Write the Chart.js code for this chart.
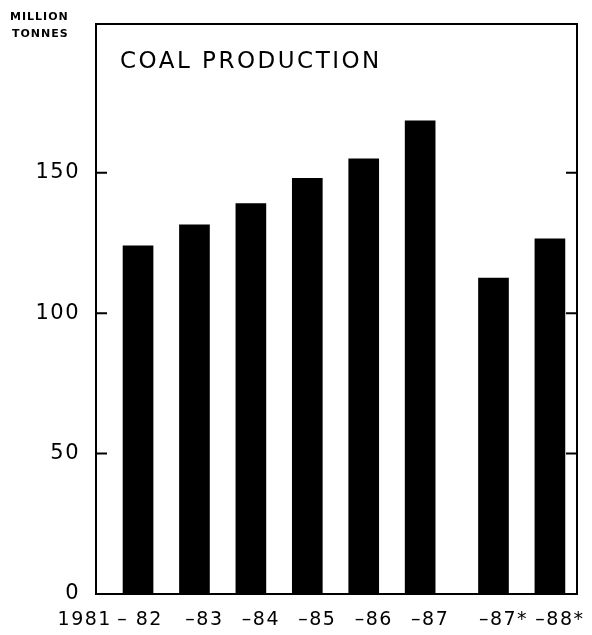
<!DOCTYPE html>
<html>
<head>
<meta charset="utf-8">
<script src="https://cdn.jsdelivr.net/npm/chart.js@4.4.0/dist/chart.umd.min.js"></script>
<style>
  html, body { margin: 0; background: #fff; }
</style>
</head>
<body>
<canvas id="coalChart" width="592" height="635"></canvas>
<script>
const years = ["1981\u2009\u2013 82", "\u201383", "\u201384", "\u201385", "\u201386", "\u201387", "\u201387*", "\u201388*"];
const production = [124, 131.5, 139, 148, 155, 168.5, 112.5, 126.5];
const yTicks = [0, 50, 100, 150];

// the last two bars stand a little apart from the yearly ones
const xs = years.map((_, i) => i + (i >= 6 ? 0.3 : 0));

const font = '"DejaVu Sans", sans-serif';

// frame, inward ticks, title and unit label
const frame = {
  id: "frame",
  beforeDraw(chart) {
    chart.ctx.letterSpacing = "1.5px";
  },
  afterDraw(chart) {
    const { ctx, chartArea: a, scales } = chart;
    ctx.save();
    ctx.strokeStyle = "#000";
    ctx.lineWidth = 2;
    ctx.strokeRect(a.left, a.top, a.right - a.left, a.bottom - a.top);
    yTicks.forEach(v => {
      if (v === 0) return;
      const py = scales.y.getPixelForValue(v);
      ctx.beginPath();
      ctx.moveTo(a.left, py); ctx.lineTo(a.left + 11, py);
      ctx.moveTo(a.right - 11, py); ctx.lineTo(a.right, py);
      ctx.stroke();
    });
    ctx.fillStyle = "#000";
    ctx.textAlign = "left";
    ctx.textBaseline = "alphabetic";
    ctx.letterSpacing = "2.5px";
    ctx.font = "23px " + font;
    ctx.fillText("COAL PRODUCTION", a.left + 24, a.top + 44);
    ctx.letterSpacing = "1px";
    ctx.font = "bold 11px " + font;
    ctx.fillText("MILLION", 10, 20);
    ctx.fillText("TONNES", 12, 37);
    ctx.restore();
  }
};

new Chart(document.getElementById("coalChart"), {
  type: "bar",
  data: {
    datasets: [{
      data: production.map((v, i) => ({ x: xs[i], y: v })),
      backgroundColor: "#000",
      borderWidth: 0,
      barThickness: 30
    }]
  },
  options: {
    responsive: false,
    animation: false,
    layout: { padding: { left: 0, right: 15, top: 24, bottom: 0 } },
    plugins: {
      legend: { display: false },
      tooltip: { enabled: false }
    },
    scales: {
      x: {
        type: "linear",
        offset: false,
        min: -0.745,
        max: 7.78,
        grid: { display: false, drawTicks: false },
        border: { display: false },
        afterBuildTicks: s => {
          s.ticks = xs.map((v, i) => ({ value: i === 0 ? v - 0.67 : v }));
        },
        afterFit: s => { s.height = 41; s.paddingLeft = 0; s.paddingRight = 0; },
        ticks: {
          color: "#000",
          font: { family: font, size: 19 },
          padding: 15,
          labelOffset: 10,
          maxRotation: 0,
          autoSkip: false,
          callback: (val, i) => years[i]
        }
      },
      y: {
        min: 0,
        max: 203,
        grid: { display: false, drawTicks: false },
        border: { display: false },
        afterBuildTicks: s => {
          s.ticks = yTicks.map(v => ({ value: v }));
        },
        afterFit: s => { s.width = 96; s.paddingTop = 0; s.paddingBottom = 0; },
        ticks: {
          color: "#000",
          font: { family: font, size: 21 },
          padding: 16
        }
      }
    }
  },
  plugins: [frame]
});
</script>
</body>
</html>
